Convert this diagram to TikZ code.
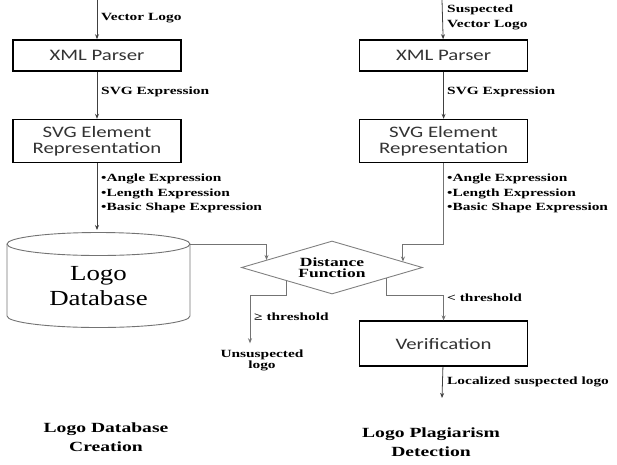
\documentclass[tikz,border=0pt]{standalone}
\usepackage{fontspec}
\setmainfont{Liberation Serif}
\newfontfamily\boxfont[FakeStretch=1.3]{Carlito}
\newfontfamily\lblfont[FakeStretch=1.4]{Liberation Serif}
\newfontfamily\dbfont[FakeStretch=1.25]{Liberation Serif}
\usetikzlibrary{shapes.geometric,arrows.meta,positioning,calc}
\tikzset{procbox/.style={rectangle,draw=black,line width=1.6pt,fill=white,text=black!80,minimum width=168pt,inner sep=0pt,align=center,font=\boxfont\fontsize{16}{16}\selectfont}}
\tikzset{dbtext/.style={inner sep=0pt,align=center,font=\dbfont\fontsize{21.5}{25}\selectfont}}
\tikzset{dbline/.style={draw=black!55,line width=0.9pt}}
\tikzset{decide/.style={diamond,draw=black!50,line width=0.9pt,minimum width=181pt,minimum height=53pt,aspect=3.4,inner sep=0pt,align=center,font=\lblfont\bfseries\fontsize{12.5}{11}\selectfont}}
\tikzset{lbl/.style={anchor=west,inner sep=0pt,align=left,font=\lblfont\bfseries\fontsize{11}{14.5}\selectfont}}
\tikzset{title/.style={inner sep=0pt,align=center,font=\lblfont\bfseries\fontsize{14}{19}\selectfont}}
\tikzset{toArrow/.style={-{Stealth[length=5pt,width=4pt]},line width=0.8pt,draw=black!75}}
\tikzset{grayArrow/.style={-{Stealth[length=5pt,width=4pt]},line width=0.9pt,draw=black!55}}

\begin{document}
\begin{tikzpicture}[x=1pt,y=-1pt]
\useasboundingbox (0,0) rectangle (617,464);
\begin{scope}[node distance=47pt]
	% logo database creation
	\node (xmlL) [procbox, minimum height=31pt] at (97,55.5) {XML Parser};
	\node (svgL) [procbox, minimum height=43pt, below =of xmlL] {SVG Element\\Representation};
	\node (db) [dbtext] at (98.5,286) {Logo\\Database};
	\draw [dbline] ([shift={(-91.5pt,42pt)}]db.center) -- ([shift={(-91.5pt,-30pt)}]db.center)
		arc [start angle=180, end angle=360, x radius=91.5pt, y radius=11.5pt] -- ([shift={(91.5pt,42pt)}]db.center);
	\draw [dbline] ([yshift=42pt]db.center) ellipse [x radius=91.5pt, y radius=11.5pt];
	\coordinate (dbtop) at ([yshift=56pt]db.center);
	\coordinate (dbtap) at ([shift={(91.5pt,42pt)}]db.center);
	% logo plagiarism detection
	\node (xmlR) [procbox, minimum height=31pt, right =177pt of xmlL] {XML Parser};
	\node (svgR) [procbox, minimum height=43pt, right =177pt of svgL] {SVG Element\\Representation};
	\node (dist) [decide] at (332,267.5) {Distance\\Function};
	\node (ver) [procbox, minimum height=45pt, below =157pt of svgR] {Verification};
	\node (unsus) [lbl, anchor=center, align=center, font=\lblfont\bfseries\fontsize{11}{11}\selectfont] at (262,360) {Unsuspected\\logo};

	\coordinate (inL) at (97,0);
	\coordinate (inR) at (442,0);
	\coordinate (outR) at (442,398);
	\coordinate (jL) at ($(dist.west)!0.28!(dist.north)$);
	\coordinate (jR) at ($(dist.east)!0.22!(dist.north)$);
	\coordinate (oL) at ($(dist.west)!0.5!(dist.south)$);
	\coordinate (oR) at ($(dist.east)!0.4!(dist.south)$);

	\draw [toArrow] (inL) -- (xmlL);
	\draw [toArrow] (xmlL) -- (svgL);
	\draw [toArrow] (svgL) -- (svgL |- dbtop);
	\draw [toArrow] (inR) -- (xmlR);
	\draw [toArrow] (xmlR) -- (svgR);
	\draw [grayArrow] (dbtap) -| (jL);
	\draw [grayArrow] (svgR) |- ([yshift=17pt]jR) -- (jR);
	\draw [grayArrow] (oL) -- ([yshift=-14pt]oL) -| ([xshift=-12pt,yshift=6pt]unsus.north);
	\draw [grayArrow] (oR) -- ([yshift=-17pt]oR) -| (ver);
	\draw [toArrow] (ver) -- (outR);

	\node (lvec) [lbl] at (101,18) {Vector Logo};
	\node (lsus) [lbl] at (447,17.5) {Suspected\\Vector Logo};
	\node (lexpL) [lbl] at (101,92) {SVG Expression};
	\node (lexpR) [lbl] at (447,92) {SVG Expression};
	\node (lfeatL) [lbl] at (101,193.5) {•Angle Expression\\•Length Expression\\•Basic Shape Expression};
	\node (lfeatR) [lbl] at (447,193.5) {•Angle Expression\\•Length Expression\\•Basic Shape Expression};
	\node (lge) [lbl] at (254,317) {≥ threshold};
	\node (llt) [lbl] at (447,298) {< threshold};
	\node (lloc) [lbl] at (447,382) {Localized suspected logo};

	\node (tL) [title] at (106,437.5) {Logo Database\\Creation};
	\node (tR) [title] at (431,442.5) {Logo Plagiarism\\Detection};
\end{scope}
\end{tikzpicture}
\end{document}
